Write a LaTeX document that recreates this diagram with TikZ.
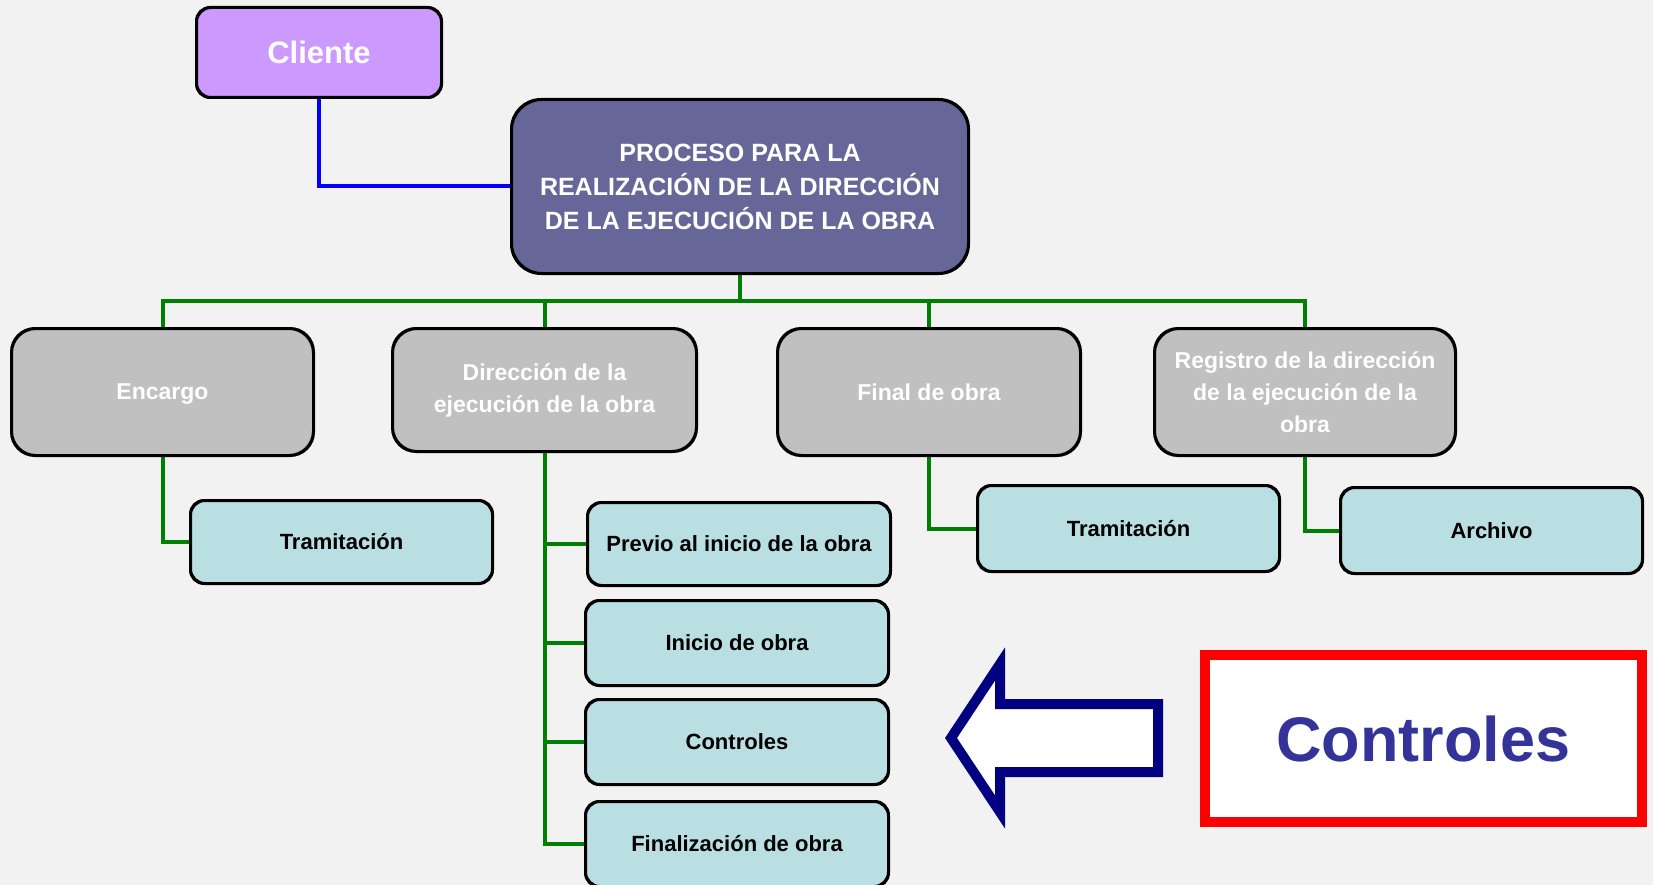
\documentclass[tikz,border=0pt]{standalone}
\usepackage{fontspec}
\setmainfont{Liberation Sans}
\definecolor{bgc}{RGB}{242,242,242}
\definecolor{clientc}{RGB}{204,153,255}
\definecolor{mainc}{RGB}{102,102,153}
\definecolor{grayc}{RGB}{192,192,192}
\definecolor{cyanc}{RGB}{185,223,226}
\definecolor{greenc}{RGB}{0,128,0}
\definecolor{navyc}{RGB}{0,0,128}
\definecolor{ctltext}{RGB}{51,51,153}
\begin{document}
\begin{tikzpicture}[x=1pt,y=-1pt,
  basebox/.style={draw=black, line width=2pt, align=center, inner sep=0pt},
  clientbox/.style={basebox, fill=clientc, text=white, rounded corners=14pt,
    minimum width=244pt, minimum height=89pt, font=\bfseries\fontsize{31}{36}\selectfont},
  mainbox/.style={basebox, fill=mainc, text=white, rounded corners=30pt,
    minimum width=456pt, minimum height=173pt, font=\bfseries\fontsize{25}{34}\selectfont},
  grbox/.style={basebox, fill=grayc, text=white, rounded corners=24pt,
    minimum width=301pt, font=\bfseries\fontsize{23}{32}\selectfont},
  cybox/.style={basebox, fill=cyanc, text=black, rounded corners=14pt,
    minimum width=301pt, font=\bfseries\fontsize{22}{28}\selectfont},
  blueline/.style={draw=blue, line width=4pt},
  greenline/.style={draw=greenc, line width=4pt}
]
\fill[bgc] (0,0) rectangle (1653,885);
\clip (0,0) rectangle (1653,885);

\node[clientbox] (cli) at (319,52.5) {Cliente};
\node[mainbox] (main) at (740,186.5) {PROCESO PARA LA\\REALIZACIÓN DE LA DIRECCIÓN\\DE LA EJECUCIÓN DE LA OBRA};

\node[grbox, minimum height=126pt, text depth=0pt] (enc) at (162.5,392) {Encargo};
\node[grbox, minimum width=303pt, minimum height=122pt] (dir) at (544.5,390) {Dirección de la\\ejecución de la obra};
\node[grbox, minimum width=302pt, minimum height=126pt] (fin) at (929,392) {Final de obra};
\node[grbox, minimum width=300pt, minimum height=126pt] (reg) at (1305,392) {Registro de la dirección\\de la ejecución de la\\obra};

\node[cybox, minimum height=82pt] (tra1) at (341.5,542) {Tramitación};
\node[cybox, minimum width=302pt, minimum height=82pt] (prev) at (739,544) {Previo al inicio de la obra};
\node[cybox, minimum width=302pt, minimum height=84pt] (ini) at (737,643) {Inicio de obra};
\node[cybox, minimum width=302pt, minimum height=84pt] (ctl) at (737,742) {Controles};
\node[cybox, minimum width=302pt, minimum height=84pt] (finz) at (737,844) {Finalización de obra};
\node[cybox, minimum height=85pt] (tra2) at (1128.5,528.5) {Tramitación};
\node[cybox, minimum height=85pt] (arc) at (1491.5,530.5) {Archivo};

\coordinate (bus) at (740,301);

% connectors
\draw[blueline] (cli.south) |- (main.west);
\draw[greenline] (main.south) -- (bus);
\draw[greenline] (enc.north) |- (bus);
\draw[greenline] (reg.north) |- (bus);
\draw[greenline] (dir.north) -- (dir.north |- bus);
\draw[greenline] (fin.north) -- (fin.north |- bus);
\draw[greenline] (enc.south) |- (tra1.west);
\draw[greenline] (dir.south) |- (prev.west);
\draw[greenline] (dir.south) |- (ini.west);
\draw[greenline] (dir.south) |- (ctl.west);
\draw[greenline] (dir.south) |- (finz.west);
\draw[greenline] (fin.south) |- (tra2.west);
\draw[greenline] (reg.south) |- (arc.west);

% redraw borders of boxes over the connector ends
\foreach \n/\r in {cli/14,main/30,enc/24,dir/24,fin/24,reg/24,tra1/14,prev/14,ini/14,ctl/14,finz/14,tra2/14,arc/14}{
  \draw[black, line width=2pt, rounded corners=\r pt] (\n.north west) rectangle (\n.south east);
}

% big arrow
\draw[navyc, fill=white, line width=10pt, miter limit=10]
  (951,738) -- (1000,664) -- (1000,704) -- (1158,704) -- (1158,772)
  -- (1000,772) -- (1000,812) -- cycle;

% red box
\node[draw=red, fill=white, line width=10pt, minimum width=437pt, minimum height=167pt,
  inner sep=0pt, text=ctltext, font=\bfseries\fontsize{63}{70}\selectfont]
  (redbox) at (1423.5,738.5) {Controles};
\end{tikzpicture}
\end{document}
